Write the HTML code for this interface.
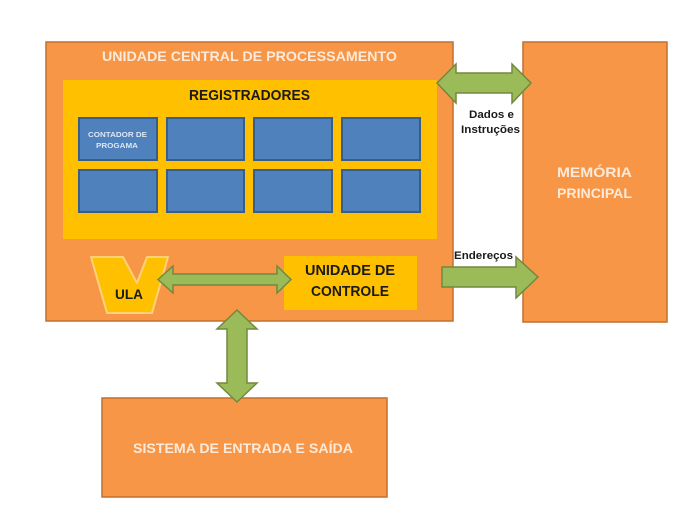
<!DOCTYPE html>
<html>
<head>
<meta charset="utf-8">
<style>
  html,body{margin:0;padding:0;background:#fff;}
  svg{display:block;}
  text{font-family:"Liberation Sans",sans-serif;font-weight:bold;}
</style>
</head>
<body>
<svg width="696" height="522" viewBox="0 0 696 522" xmlns="http://www.w3.org/2000/svg">
  <rect x="0" y="0" width="696" height="522" fill="#ffffff"/>

  <!-- CPU box -->
  <rect x="46" y="42" width="407" height="279" fill="#f79646" stroke="#c0702f" stroke-width="1.5"/>
  <text x="102" y="61" font-size="14" fill="#fdeada" textLength="295" lengthAdjust="spacingAndGlyphs">UNIDADE CENTRAL DE PROCESSAMENTO</text>

  <!-- Registradores -->
  <rect x="63" y="80" width="374" height="159" fill="#ffc000"/>
  <text x="189" y="100" font-size="15" fill="#1a1a1a" textLength="121" lengthAdjust="spacingAndGlyphs">REGISTRADORES</text>

  <g fill="#4f81bd" stroke="#385d8a" stroke-width="2">
    <rect x="79" y="118" width="78" height="42"/>
    <rect x="167" y="118" width="77" height="42"/>
    <rect x="254" y="118" width="78" height="42"/>
    <rect x="342" y="118" width="78" height="42"/>
    <rect x="79" y="170" width="78" height="42"/>
    <rect x="167" y="170" width="77" height="42"/>
    <rect x="254" y="170" width="78" height="42"/>
    <rect x="342" y="170" width="78" height="42"/>
  </g>
  <text x="88" y="137" font-size="7.5" fill="#dce6f2" textLength="59" lengthAdjust="spacingAndGlyphs">CONTADOR DE</text>
  <text x="96" y="148" font-size="7.5" fill="#dce6f2" textLength="42" lengthAdjust="spacingAndGlyphs">PROGAMA</text>

  <!-- ULA -->
  <polygon points="91,257 123,257 137,283 147,257 168,257 152,313 107,313" fill="#ffc000" stroke="#ffd27a" stroke-width="2" stroke-linejoin="round"/>
  <text x="115" y="299" font-size="14" fill="#1a1a1a" textLength="28" lengthAdjust="spacingAndGlyphs">ULA</text>

  <!-- Unidade de controle -->
  <rect x="284" y="256" width="133" height="54" fill="#ffc000"/>
  <text x="305" y="275" font-size="15" fill="#1a1a1a" textLength="90" lengthAdjust="spacingAndGlyphs">UNIDADE DE</text>
  <text x="311" y="296" font-size="15" fill="#1a1a1a" textLength="78" lengthAdjust="spacingAndGlyphs">CONTROLE</text>

  <!-- Memória -->
  <rect x="523" y="42" width="144" height="280" fill="#f79646" stroke="#c0702f" stroke-width="1.5"/>
  <text x="557" y="177" font-size="14" fill="#fdeada" textLength="75" lengthAdjust="spacingAndGlyphs">MEMÓRIA</text>
  <text x="557" y="198" font-size="14" fill="#fdeada" textLength="75" lengthAdjust="spacingAndGlyphs">PRINCIPAL</text>

  <!-- I/O -->
  <rect x="102" y="398" width="285" height="99" fill="#f79646" stroke="#c0702f" stroke-width="1.5"/>
  <text x="133" y="453" font-size="14" fill="#fdeada" textLength="220" lengthAdjust="spacingAndGlyphs">SISTEMA DE ENTRADA E SAÍDA</text>

  <!-- Arrows -->
  <g fill="#9bbb59" stroke="#71893f" stroke-width="1.5" stroke-linejoin="miter">
    <polygon points="437,83 456,64 456,73 512,73 512,64 531,83 512,103 512,93 456,93 456,103"/>
    <polygon points="158,279.5 173,266 173,274 277,274 277,266 291,279.5 277,293 277,285 173,285 173,293"/>
    <polygon points="442,267 516,267 516,257 538,277 516,298 516,287 442,287"/>
    <polygon points="237,310 257,329 247,329 247,383 257,383 237,402 217,383 227,383 227,329 217,329"/>
  </g>

  <!-- Connector labels -->
  <text x="469" y="118" font-size="11" fill="#1a1a1a" textLength="45" lengthAdjust="spacingAndGlyphs">Dados e</text>
  <text x="461" y="133" font-size="11" fill="#1a1a1a" textLength="59" lengthAdjust="spacingAndGlyphs">Instruções</text>
  <text x="454" y="259" font-size="11" fill="#1a1a1a" textLength="59" lengthAdjust="spacingAndGlyphs">Endereços</text>
</svg>
</body>
</html>
